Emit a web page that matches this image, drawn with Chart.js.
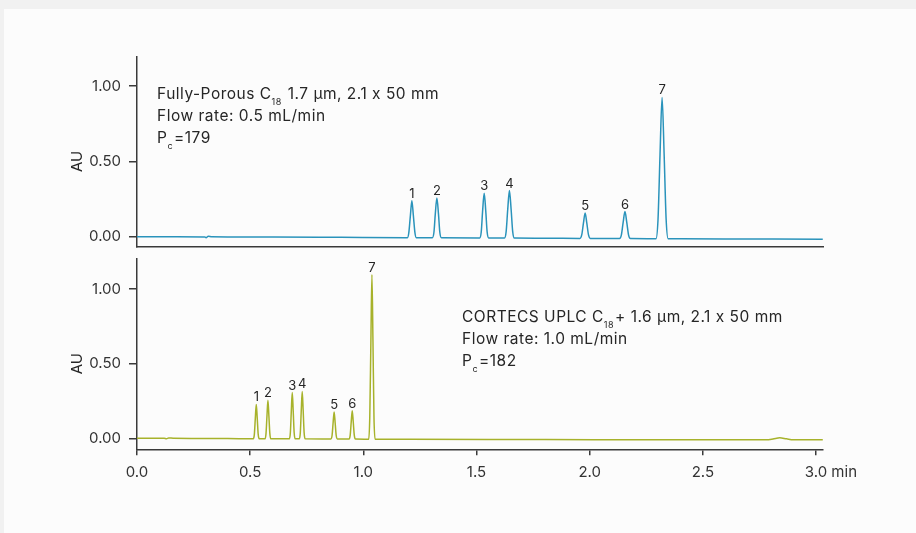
<!DOCTYPE html>
<html>
<head>
<meta charset="utf-8">
<script src="https://cdn.jsdelivr.net/npm/chart.js@4.4.1/dist/chart.umd.min.js"></script>
<style>
  html, body { margin: 0; padding: 0; }
  body { width: 916px; height: 533px; background: #f1f1f1; position: relative; overflow: hidden; }
  #card { position: absolute; left: 4px; top: 9px; right: 0; bottom: 0; background: #fcfcfc; }
  canvas { position: absolute; left: 0; top: 0; }
</style>
</head>
<body>
<div id="card"></div>
<canvas id="topChart" width="916" height="533"></canvas>
<canvas id="botChart" width="916" height="533"></canvas>
<script>
// fully-porous column trace (min, AU)
let topTime = [0.00, 0.15, 0.30, 0.305, 0.315, 0.33, 0.60, 0.90,
  1.195, 1.201, 1.208, 1.2145, 1.221, 1.228, 1.234,
  1.305, 1.312, 1.318, 1.325, 1.332, 1.338, 1.345,
  1.514, 1.521, 1.527, 1.534, 1.541, 1.547, 1.554,
  1.624, 1.631, 1.638, 1.6455, 1.653, 1.660, 1.667,
  1.80,
  1.957, 1.965, 1.9725, 1.980, 1.9875, 1.995, 2.003,
  2.132, 2.140, 2.148, 2.156, 2.164, 2.172, 2.180,
  2.293, 2.302, 2.311, 2.320, 2.329, 2.338, 2.347,
  2.40, 2.70, 3.03];
let topAU = [0.000, 0.000, -0.001, -0.006, 0.003, 0.000, -0.002, -0.004,
  -0.006, 0.027, 0.142, 0.240, 0.142, 0.027, -0.006,
  -0.006, 0.030, 0.152, 0.258, 0.152, 0.030, -0.007,
  -0.008, 0.032, 0.170, 0.289, 0.170, 0.032, -0.008,
  -0.008, 0.034, 0.181, 0.307, 0.181, 0.034, -0.009,
  -0.010,
  -0.011, 0.012, 0.090, 0.158, 0.090, 0.012, -0.011,
  -0.012, 0.011, 0.095, 0.167, 0.095, 0.011, -0.012,
  -0.013, 0.113, 0.550, 0.925, 0.550, 0.113, -0.013,
  -0.013, -0.015, -0.017];

// CORTECS column trace (min, AU)
let botTime = [0.00, 0.12, 0.13, 0.14, 0.16, 0.40,
  0.514, 0.5186, 0.5228, 0.527, 0.5312, 0.5354, 0.540,
  0.566, 0.570, 0.5743, 0.5785, 0.5827, 0.587, 0.591,
  0.673, 0.6776, 0.6818, 0.686, 0.6902, 0.6944, 0.699,
  0.717, 0.7216, 0.7258, 0.730, 0.7342, 0.7384, 0.743,
  0.857, 0.862, 0.8665, 0.871, 0.8755, 0.880, 0.885,
  0.937, 0.942, 0.9465, 0.951, 0.9555, 0.960, 0.965,
  1.024, 1.0285, 1.0335, 1.038, 1.0425, 1.047, 1.052,
  1.20, 1.80, 2.50, 2.78, 2.81, 2.84, 2.87, 2.90, 3.03];
let botAU = [0.000, 0.000, -0.003, 0.002, 0.000, -0.002,
  -0.003, 0.028, 0.135, 0.227, 0.135, 0.028, -0.003,
  -0.003, 0.031, 0.151, 0.254, 0.151, 0.031, -0.003,
  -0.004, 0.037, 0.182, 0.306, 0.182, 0.037, -0.004,
  -0.004, 0.038, 0.187, 0.314, 0.187, 0.038, -0.004,
  -0.005, 0.020, 0.104, 0.176, 0.104, 0.020, -0.005,
  -0.005, 0.021, 0.109, 0.185, 0.109, 0.021, -0.005,
  -0.006, 0.143, 0.656, 1.097, 0.656, 0.143, -0.006,
  -0.007, -0.009, -0.010, -0.010, -0.005, 0.003, -0.004, -0.010, -0.010];

// peak numbering
let peakLabels = ['1', '2', '3', '4', '5', '6', '7'];
let topPeakTime = [1.2145, 1.325, 1.534, 1.6455, 1.980, 2.156, 2.320];
let topPeakAU = [0.240, 0.258, 0.289, 0.307, 0.158, 0.167, 0.925];
let botPeakTime = [0.527, 0.5785, 0.686, 0.730, 0.871, 0.951, 1.038];
let botPeakAU = [0.227, 0.254, 0.306, 0.314, 0.176, 0.185, 1.097];

let xTicks = [0, 0.5, 1.0, 1.5, 2.0, 2.5, 3.0];
let yTicks = [0, 0.5, 1.0];

Chart.defaults.font.family = 'Inter';
Chart.defaults.color = '#333';

let axisColor = '#3a3a3a';
let textColor = '#262626';

function drawRuns(ctx, x, y, runs) {
  ctx.letterSpacing = '0.5px';
  runs.forEach(r => {
    ctx.font = r.sub ? '9px Inter' : '15.5px Inter';
    ctx.fillText(r.t, x, r.sub ? y + 6 : y);
    x += ctx.measureText(r.t).width + (r.sub ? 1 : 0);
  });
  ctx.letterSpacing = '0px';
}

function makePlugin(peakTime, peakAU, notes, noteX, noteY, withMin) {
  return {
    id: 'extras',
    afterDraw(chart) {
      let ctx = chart.ctx;
      let xs = chart.scales.x, ys = chart.scales.y;
      ctx.save();
      ctx.fillStyle = textColor;
      // axis title
      ctx.save();
      ctx.translate(77, ys.getPixelForValue(0.5));
      ctx.rotate(-Math.PI / 2);
      ctx.font = '15px Inter';
      ctx.textAlign = 'center';
      ctx.textBaseline = 'middle';
      ctx.fillText('AU', 0, 0);
      ctx.restore();
      // peak numbers
      ctx.font = '13px Inter';
      ctx.textAlign = 'center';
      ctx.textBaseline = 'alphabetic';
      peakLabels.forEach((lab, i) => {
        ctx.fillText(lab, xs.getPixelForValue(peakTime[i]), ys.getPixelForValue(peakAU[i]) - 3);
      });
      // column notes
      ctx.textAlign = 'left';
      notes.forEach((runs, i) => drawRuns(ctx, noteX, noteY + i * 22, runs));
      if (withMin) {
        ctx.font = '15px Inter';
        let px = xs.getPixelForValue(3.0) + ctx.measureText('3.0').width / 2;
        ctx.textBaseline = 'middle';
        ctx.fillStyle = '#333';
        ctx.fillText(' min', px, xs.top + 6 + 8 + 9);
      }
      ctx.restore();
    }
  };
}

function yScale(min, max) {
  return {
    min: min,
    max: max,
    afterBuildTicks: s => { s.ticks = yTicks.map(v => ({ value: v })); },
    afterFit: s => { s.width = 137; s.paddingTop = 0; s.paddingBottom = 0; },
    ticks: { callback: v => v.toFixed(2), font: { size: 15 }, color: '#333', padding: 8 },
    grid: { drawOnChartArea: false, tickLength: 8, color: axisColor, lineWidth: 1.5 },
    border: { color: axisColor, width: 1.5 }
  };
}

let topChart = new Chart(document.getElementById('topChart').getContext('2d'), {
  type: 'line',
  data: {
    datasets: [{
      data: topTime.map((t, i) => ({ x: t, y: topAU[i] })),
      borderColor: '#2a93bb',
      borderWidth: 1.5,
      pointRadius: 0,
      fill: false,
      cubicInterpolationMode: 'monotone'
    }]
  },
  options: {
    responsive: false,
    animation: false,
    layout: { padding: { left: 0, top: 57, right: 93, bottom: 0 } },
    plugins: { legend: { display: false }, tooltip: { enabled: false } },
    scales: {
      x: {
        type: 'linear',
        min: 0,
        max: 3.031,
        afterFit: s => { s.height = 533 - 246.7; s.paddingLeft = 0; s.paddingRight = 0; },
        ticks: { display: false },
        grid: { display: false },
        border: { color: axisColor, width: 1.5 }
      },
      y: yScale(-0.066, 1.194)
    }
  },
  plugins: [makePlugin(topPeakTime, topPeakAU, [
    [{ t: 'Fully-Porous C' }, { t: '18', sub: true }, { t: ' 1.7 µm, 2.1 x 50 mm' }],
    [{ t: 'Flow rate: 0.5 mL/min' }],
    [{ t: 'P' }, { t: 'c', sub: true }, { t: '=179' }]
  ], 157, 99, false)]
});

let botChart = new Chart(document.getElementById('botChart').getContext('2d'), {
  type: 'line',
  data: {
    datasets: [{
      data: botTime.map((t, i) => ({ x: t, y: botAU[i] })),
      borderColor: '#a7b22b',
      borderWidth: 1.5,
      pointRadius: 0,
      fill: false,
      cubicInterpolationMode: 'monotone'
    }]
  },
  options: {
    responsive: false,
    animation: false,
    layout: { padding: { left: 0, top: 258.3, right: 93, bottom: 0 } },
    plugins: { legend: { display: false }, tooltip: { enabled: false } },
    scales: {
      x: {
        type: 'linear',
        min: 0,
        max: 3.031,
        afterBuildTicks: s => { s.ticks = xTicks.map(v => ({ value: v })); },
        afterFit: s => { s.height = 533 - 449.3; s.paddingLeft = 0; s.paddingRight = 0; },
        ticks: { callback: v => v.toFixed(1), font: { size: 15 }, color: '#333', padding: 8, maxRotation: 0 },
        grid: { drawOnChartArea: false, tickLength: 6, color: axisColor, lineWidth: 1.5 },
        border: { color: axisColor, width: 1.5 }
      },
      y: yScale(-0.074, 1.206)
    }
  },
  plugins: [makePlugin(botPeakTime, botPeakAU, [
    [{ t: 'CORTECS UPLC C' }, { t: '18', sub: true }, { t: '+ 1.6 µm, 2.1 x 50 mm' }],
    [{ t: 'Flow rate: 1.0 mL/min' }],
    [{ t: 'P' }, { t: 'c', sub: true }, { t: '=182' }]
  ], 462, 321.7, true)]
});
</script>
</body>
</html>
